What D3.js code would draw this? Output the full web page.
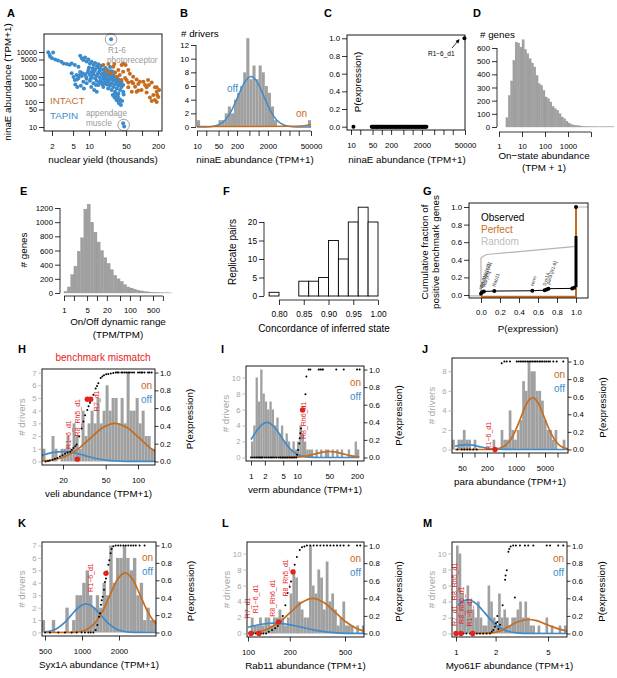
<!DOCTYPE html>
<html><head><meta charset="utf-8">
<script src="https://cdn.jsdelivr.net/npm/d3@7"></script>
<style>body{margin:0;background:#fff}svg{display:block}text{font-family:'Liberation Sans',Arial,Helvetica,sans-serif}</style>
</head><body>
<script>
// ================= DATA =================
// Panel A: nuclear yield (thousands) vs ninaE abundance (TPM+1)
const aTapin=[[1.7,9800],[1.8,7600],[2.1,9500],[1.85,6500],[2.0,5600],[2.3,5000],[2.6,4600],[3.0,4100],[3.3,3500],[3.8,3300],[4.3,3100],[4.7,3500],[5.4,3000],[6.3,2600],
[6.8,7000],[7.3,5600],[7.8,4800],[8.4,6000],[9.0,4200],[9.7,5000],[10.4,3500],[11.2,4100],[12.1,3000],[13,3600],[14,2600],[15,3200],[16,2200],[17,2800],[18.6,2000],
[4.7,1400],[5.1,1000],[5.4,760],[5.8,1200],[6.3,900],[6.8,1600],[7.3,1100],[7.8,650],[8.4,1300],[9.0,850],[9.7,1900],[10.4,1200],[10.4,700],[11.2,1000],[11.2,1600],[12.1,560],[12.1,1300],[13,900],[13,2000],[13.9,700],[13.9,1100],[15,1500],[15,480],[16,950],[16,1800],[17.3,600],[17.3,1250],[18.6,850],[18.6,400],[20,1100],[20,700],[20,1600],[21.5,500],[21.5,900],[23,1300],[23,650],[23,350],[24.8,800],[24.8,450],[24.8,1700],[26.7,1000],[26.7,560],[26.7,300],[28.7,700],[28.7,1200],[28.7,400],[30.9,850],[30.9,500],[30.9,260],[33.2,600],[33.2,1000],[33.2,350],[35.7,450],[35.7,750],[35.7,220],[38.4,550],[38.4,300],[41,400],[41,650],[44,480],
[5.5,500],[6,400],[7,450],[8,350],[9,560],[11,400],[12.5,300],[14,260],
[9.5,1500],[10.8,850],[12.5,1700],[14.5,1300],[16.5,700],[18,1400],[19,1000],[21,1300],[22,800],[24,1000],[25.5,1300],[27.5,850],[29.5,1000],[32,750],[34.5,900],[37,650],[39.5,450],[22.5,550],[19.5,560],[17.8,500],[15.5,620],[13.5,480],[8.8,1000],[7.5,1400],[6.5,1150],[5.9,800],[10,2400],[11.7,2200],[14.8,2400],[20.5,2300],[22,1900],[25,2500],[30,1500],[27,1700],
[28,190],[30,160],[32,140],[33,120],[35,170],[36,100],[37,88],[38,130],[40,76],[42,110],[34,200],[31,220],[45,200],[44,260],
[26,32000],[44,14],[46,10.5]];
const aIntact=[[18.6,3020],[23.1,3300],[28.7,2590],[35.7,1900],[41.2,3020],[49,3020],[55,1900],[44,1630],[59,1350],[68,1030],[64,650],[79,800],[51,760],[48,920],[55,390],[74,410],[85,520],[91,650],[106,650],[122,390],[135,480],[152,600],[175,390],[189,260],[210,300],[193,190],[163,190],[141,150],[175,120],[152,110],[122,240],[98,300],[85,290],[64,260],[55,600],[41,760],[33,1030],[25,1400],[21.5,1750],[31,1500],[38,1200],[203,160],[189,100],[68,560],[114,480],[130,760],[189,390],[79,260],[30,3300],[44,3500]];
const aCircled=[[26,32000],[45,12]];
const aXTicks=[2,5,10,20,50,100,200], aXLabels=["2","5","10","","50","","200"];
const aYTicks=[10,50,100,500,1000,5000,10000], aYLabels=["10","50","100","500","1000","5000","10000"];

// Panel B: histogram of ninaE (log10 bins)
const bBinStart=1.0, bBinStep=0.1;
const bCounts=[1,0,0,0,0,0,0,1,1,2,3,2,4,5,6,8,13,7,9,7,9,8,6,5,3,1,0,0,0,0,0,0,0,0,0,0,1];
const bOff=[[10,0.001],[19,0.016],[31,0.08],[50,0.325],[81,1.0],[132,2.4],[214,4.49],[347,6.53],[562,7.4],[912,6.53],[1479,4.49],[2399,2.4],[3890,1.0],[6310,0.325],[10233,0.08],[16600,0.016],[26900,0.003],[50000,0]];
const bOn=[[10,0.08],[1000,0.08],[10000,0.12],[30000,0.2],[50000,0.35]];
const logTicks=[10,20,50,100,200,500,1000,2000,5000,10000,20000,50000];
const logLabels=["10","","50","","200","","","2000","","","","50000"];
const bYTicks=[0,2,4,6,8,10,12];

// Panel C: P(expression) vs ninaE
const cOffX=[12,47,50,53,56,60,64,68,72,77,82,88,94,100,107,115,123,132,141,151,162,173,185,198,212,227,243,260,278,298,319,341,365,391,418,447,479,512,548,587,628,672,719,770,824,882,944,1010,1080,1160,1240,1330,1420,1520,1630,1740,1870,2000,2140,2290,2450,2620,2800];
const cR16=[48000,1];
const cYTicks=[0,0.2,0.4,0.6,0.8,1.0];

// Panel D: on-state abundance histogram
const dBinStart=0.3, dBinStep=0.1;
const dCounts=[71,240,350,506,645,638,607,663,590,557,519,486,456,392,329,316,278,228,215,190,157,139,127,101,76,63,45,30,20,15,12,10,8,5,4,3,2,2,1,1,1,1,1,1,1,1,1];
const dXTicks=[1,10,100,1000,10000], dXLabels=["1","10","100","1000",""];
const dYTicks=[0,100,200,300,400,500,600];

// Panel E: on/off dynamic range histogram
const eBinStart=0, eBinStep=0.1;
const eCounts=[24,85,260,380,590,780,1185,1255,1000,860,720,600,500,420,330,250,200,165,120,85,70,55,40,30,22,16,12,9,6,4,3,2,1];
const eXTicks=[1,2,5,10,20,50,100,200,500,1000], eXLabels=["1","","5","","20","","100","","500",""];
const eYTicks=[0,200,400,600,800,1000,1200];

// Panel F: concordance histogram
const fBinStart=0.78, fBinStep=0.02;
const fCounts=[1,0,0,4,4,5,15,10,20,24,20];
const fXTicks=[0.80,0.85,0.90,0.95,1.00], fYTicks=[0,5,10,15,20];

// Panel G: cumulative fraction of positive benchmark genes
const gObserved=[[0,0.015],[0.01,0.03],[0.03,0.04],[0.14,0.045],[0.54,0.048],[0.67,0.055],[0.69,0.062],[0.71,0.072],[0.96,0.075],[0.98,0.082],[1.0,0.09],[1.0,0.67]];
const gObsPts=[[0,0.015],[0.01,0.03],[0.03,0.04],[0.14,0.045],[0.54,0.048],[0.67,0.055],[0.69,0.062],[0.71,0.072],[0.96,0.075],[0.98,0.082],[1.0,1.0]];
const gPerfect=[[0,-0.02],[1.0,-0.02],[1.0,1.0]];
const gRandom=[[-0.13,-0.01],[0,-0.01],[0,0.42],[0.025,0.44],[0.06,0.46],[0.975,0.55],[1.0,0.56],[1.0,1.0],[1.13,1.0]];
const gGeneLabels=[["Myo61F [x3]",0,0.015],["R8_Rh6 [x2]",0.012,0.03],["veli [x3]",0.035,0.04],["Rab11",0.14,0.045],["verm",0.54,0.048],["Syx1A",0.67,0.055],["para [R1-6]",0.71,0.072]];
const gTicks=[0,0.2,0.4,0.6,0.8,1.0];

// Panels H-M: driver histograms, on/off fits, P(expression)
const pTicks=[0,0.2,0.4,0.6,0.8,1.0];
// H veli
const hBinStart=1.11, hBinStep=0.028;
const hCounts=[1,0,0,2,1,0,1,1,2,1,3,2,1,4,2,3,4,3,5,3,4,6,4,5,5,3,5,3,7,4,4,5,3,4,2,2,1,1];
const hOff=[[12.7,0.48],[15.8,0.69],[20,0.78],[25.1,0.69],[31.6,0.475],[39.8,0.254],[50.1,0.106],[63,0.034],[79,0.009],[100,0.002],[144,0]];
const hOn=[[12.4,0.033],[16.2,0.13],[21.1,0.41],[27.5,0.97],[35.9,1.82],[46.8,2.65],[61,3.0],[79.4,2.65],[103.5,1.82],[135,0.97],[144.5,0.8]];
const hDots=[[13.8,0],[14.5,0.005],[15.1,0.01],[16,0.02],[16.8,0.03],[17.7,0.04],[18.7,0.056],[19.8,0.07],[20.9,0.086],[22,0.1],[23.3,0.11],[24.2,0.13],[25,0.15],[26,0.17],[26.8,0.19],[28.3,0.28],[29.8,0.37],[31,0.45],[32.1,0.52],[33.7,0.58],[34.6,0.62],[35.7,0.66],[37,0.71],[38.4,0.75],[40.3,0.82],[41.5,0.85],[42.7,0.88],[44.9,0.94],[46.5,0.955],[48.2,0.97],[50.5,0.98],[52.9,0.985],[55.8,0.99],[58.9,0.995],[62,1],[64,1],[66,1],[70,1],[72,1],[75,1],[78,1],[81,1],[84,1],[88,1],[92,1],[100,1],[104,1],[108,1],[110,1],[115,1],[124,1],[128,1],[134,1]];
const hRed=[[27.2,0.026],[33.7,0.70],[36.2,0.70]];
const hLabels=[["R1−6_d1",23.5,0.33],["R8_Rh5_d1",28.8,0.52],["R7_d1",43.3,0.71]];
const hXTicks=[20,50,100], hXLabels=["20","50","100"], hYTicks=[0,1,2,3,4,5,6,7];
// I verm
const iBinStart=0, iBinStep=0.05;
const iCounts=[2,4,10,7,11,8,7,6,7,6,4,5,3,4,2,3,2,1,2,1,2,4,3,2,1,1,1,0,1,0,1,0,1,1,0,1,0,1,0,1,0,0,1,0,0,2,1];
const iOff=[[1,2.25],[1.26,3.14],[1.58,3.9],[2.22,4.4],[3.16,3.86],[4.47,2.64],[6.3,1.41],[8.9,0.58],[12.6,0.19],[17.8,0.047],[31.6,0],[224,0]];
const iOn=[[4,0],[7.9,0.02],[12.6,0.1],[17.8,0.24],[25,0.455],[35.5,0.66],[50,0.75],[70.8,0.66],[100,0.455],[141,0.24],[200,0.1],[224,0.07]];
const iDots=[[1.0,0],[1.1,0],[1.2,0],[1.3,0],[1.4,0],[1.5,0],[1.6,0],[1.7,0],[1.8,0],[2.0,0],[2.2,0],[2.4,0],[2.6,0],[2.8,0],[3.0,0],[3.3,0],[3.6,0],[4.0,0],[4.4,0],[4.8,0],[5.2,0],[5.7,0],[6.2,0],[6.8,0],[7.4,0],[8.1,0],[8.8,0],[9.6,0],[10,0.03],[10.5,0.085],[11.2,0.16],[11.4,0.22],[11.8,0.275],[12.2,0.33],[15.2,0.72],[15.9,0.92],[17.8,1],[19.4,1],[29.5,1],[32,1],[34.9,1],[36.5,1],[71,1],[103,1],[200,1],[228,1]];
const iRed=[[13.2,0.54]];
const iLabels=[["R8_Rh6_d1",15.8,0.45]];
const iXTicks=[1,2,5,10,20,50,100,200], iXLabels=["1","2","5","10","","50","","200"], iYTicks=[0,2,4,6,8,10];
// J para
const jBinStart=1.46, jBinStep=0.065;
const jCounts=[1,0,1,1,2,1,1,0,1,0,0,0,0,0,0,1,0,0,2,1,1,4,2,1,2,3,7,6,9,8,8,6,6,5,3,2,2,1,2,0,0,1];
const jOff=[[34,0.33],[45.7,0.44],[64.6,0.5],[91,0.44],[129,0.3],[182,0.16],[257,0.068],[363,0.022],[513,0.0055],[1000,0],[17800,0]];
const jOn=[[34,0],[170,0],[339,0.06],[468,0.22],[661,0.72],[912,1.67],[1288,3.2],[1800,4.68],[2512,5.3],[3508,4.68],[4898,3.2],[6839,1.72],[9550,0.72],[13335,0.23],[17800,0.07]];
const jDots=[[38.6,0],[49,0],[56.9,0],[67,0],[77.8,0],[93.7,0],[113,0],[452,0.98],[524,1],[597,1],[718,1],[1040,1],[1150,1],[1270,1],[1400,1],[1550,1],[1700,1],[1880,1],[2070,1],[2280,1],[2500,1],[2750,1],[3000,1],[3300,1],[3650,1],[4000,1],[4400,1],[4900,1],[5400,1],[6000,1],[6600,1],[7940,1],[9550,1],[13800,1]];
const jRed=[[312,0]];
const jLabels=[["R1−6_d1",250,0.18]];
const jXTicks=[50,100,200,500,1000,2000,5000,10000], jXLabels=["50","","200","","1000","","5000",""], jYTicks=[0,2,4,6,8];
// K Syx1A
const kBinStart=2.672, kBinStep=0.0275;
const kCounts=[1,0,0,1,0,0,0,2,0,1,3,3,4,5,3,2,3,2,4,3,7,4,6,6,7,6,5,6,3,4,1,2,1,1];
const kOff=[[500,0.05],[541,0.1],[621,0.31],[713,0.75],[818,1.4],[940,2.03],[1079,2.3],[1239,2.03],[1422,1.4],[1633,0.75],[1875,0.31],[2153,0.1],[2472,0.027],[2818,0.005],[3981,0]];
const kOn=[[500,0],[800,0.005],[933,0.05],[1072,0.21],[1247,0.65],[1445,1.56],[1671,2.91],[1936,4.24],[2239,4.8],[2594,4.24],[3000,2.91],[3470,1.56],[3981,0.69]];
const kDots=[[500,0],[549,0],[642,0],[727,0],[824,0],[905,0],[993,0],[1057,0],[1125,0],[1175,0],[1236,0],[1291,0.03],[1334,0.086],[1375,0.18],[1402,0.22],[1428,0.32],[1446,0.37],[1473,0.41],[1510,0.49],[1538,0.58],[1567,0.62],[1600,0.7],[1637,0.78],[1668,0.83],[1710,0.91],[1743,0.96],[1798,0.99],[1880,1],[1970,1],[2060,1],[2170,1],[2270,1],[2380,1],[2500,1],[2620,1],[2740,1],[2940,1],[3230,1]];
const kRed=[[1567,0.68]];
const kLabels=[["R1−6_d1",1236,0.66]];
const kXTicks=[500,1000,2000], kXLabels=["500","1000","2000"], kYTicks=[0,1,2,3,4,5,6,7];
// L Rab11
const lBinStart=2.0, lBinStep=0.02;
const lCounts=[0,2,1,1,2,1,2,2,1,2,2,3,2,1,2,5,8,7,4,3,2,2,11,6,5,8,7,3,9,4,5,3,1,2,4,1,1,1,0,1,0,1];
const lOff=[[100,0.78],[125,1.15],[156,1.3],[194,1.15],[242,0.79],[301,0.42],[374,0.176],[466,0.057],[579,0.014],[685,0.003]];
const lOn=[[100,0.06],[117,0.19],[140,0.6],[169,1.43],[203,2.67],[244,3.88],[293,4.4],[352,3.88],[424,2.67],[509,1.43],[612,0.6],[685,0.3]];
const lDots=[[105,0],[109,0],[114,0],[119,0],[124,0],[129,0],[135,0],[141,0.02],[149,0.04],[157,0.06],[164,0.085],[171,0.13],[178,0.2],[186,0.32],[193,0.46],[200,0.53],[204,0.59],[211,0.70],[217,0.78],[225,0.87],[236,0.95],[245,0.98],[255,0.99],[266,1],[281,1],[297,1],[314,1],[332,1],[351,1],[371,1],[392,1],[414,1],[438,1],[463,1],[489,1],[531,1],[610,1],[644,1]];
const lRed=[[105,0],[120,0],[166,0.13],[211,0.70]];
const lLabels=[["R7_d1",103,0.32],["R1−6_d1",119,0.42],["R8_Rh6_d1",156,0.43],["R8_Rh5_d1",193,0.66]];
const lXTicks=[100,200,500], lXLabels=["100","200","500"], lYTicks=[0,2,4,6,8,10];
// M Myo61F
const mBinStart=0, mBinStep=0.02;
const mCounts=[11,10,5,4,6,4,3,2,4,2,1,1,6,4,2,1,5,2,3,2,1,2,2,3,4,2,4,2,1,1,0,1,0,0,2,0,1,0,0,1,0,1];
const mOff=[[1.04,3.5],[1.059,3.71],[1.23,4.2],[1.429,3.71],[1.66,2.55],[1.928,1.36],[2.239,0.57],[2.6,0.18],[3.02,0.047],[3.51,0.009],[6.97,0]];
const mOn=[[1.44,0],[1.8,0.05],[2.0,0.15],[2.25,0.45],[2.6,1.0],[3.0,1.5],[3.5,1.75],[4.1,1.6],[4.75,1.2],[5.5,0.8],[6.4,0.45],[6.97,0.3]];
const mDots=[[1.01,0],[1.07,0],[1.14,0],[1.2,0],[1.28,0],[1.35,0],[1.44,0],[1.52,0],[1.61,0],[1.71,0],[1.81,0],[1.87,0.02],[1.92,0.04],[1.98,0.077],[2.01,0.115],[2.06,0.13],[2.06,0.2],[2.1,0.05],[2.16,0.1],[2.26,0.32],[2.36,0.61],[2.38,0.66],[2.43,0.72],[2.5,0.93],[2.54,0.96],[2.6,0.99],[2.8,0.41],[2.72,1],[2.85,1],[3.06,1],[3.34,1],[3.54,1],[3.87,1],[4.89,1],[5.18,1],[5.98,1],[6.53,1]];
const mRed=[[1.0,0],[1.09,0],[1.34,0]];
const mLabels=[["R7_d1",1.01,0.23],["R8_Rh5_d1",1.01,0.62],["R8_Rh6_d1",1.156,0.35],["R1−6_d1",1.32,0.27]];
const mXTicks=[1,2,5], mXLabels=["1","2","5"], mYTicks=[0,2,4,6,8,10];

// ================= DRAWING =================
const BLUE="#3d8bcb", ORANGE="#c76c1e", RED="#e3221b", HGRAY="#a0a0a0", AXGRAY="#a6a6a6";
const svg=d3.select("body").append("svg").attr("width",617).attr("height",678);
let clipId=0;

function text(x,y,s,o={}){
  const t=svg.append("text").attr("x",x).attr("y",y).text(s)
    .attr("font-size",o.size||9.8).attr("fill",o.fill||"#000").attr("text-anchor",o.anchor||"start");
  if(o.bold) t.attr("font-weight","bold");
  if(o.rotate!=null) t.attr("transform",`rotate(${o.rotate},${x},${y})`);
  return t;
}
function letter(x,y,s){ text(x,y,s,{size:11,bold:true}); }
function axis(kind,scale,vals,labels,pos,o={}){
  const gen=kind==="bottom"?d3.axisBottom(scale):kind==="left"?d3.axisLeft(scale):d3.axisRight(scale);
  gen.tickValues(vals).tickFormat((d,i)=>labels?labels[i]:d).tickSizeOuter(0).tickSizeInner(o.tick||4.5).tickPadding(o.pad||2);
  const col=o.color||"#000";
  const g=svg.append("g").attr("transform",kind==="bottom"?`translate(0,${pos})`:`translate(${pos},0)`).call(gen)
    .attr("font-family",null).attr("font-size",o.size||7.8);
  g.select(".domain").remove();
  g.selectAll(".tick line").attr("stroke",col).attr("stroke-width",0.8);
  g.selectAll(".tick text").attr("fill",col);
  if(o.line){
    const r=d3.extent(vals.map(v=>scale(v)));
    if(kind==="bottom") g.append("line").attr("x1",r[0]).attr("x2",r[1]).attr("stroke",col).attr("stroke-width",0.8);
    else g.append("line").attr("y1",r[0]).attr("y2",r[1]).attr("stroke",col).attr("stroke-width",0.8);
  }
  return g;
}
function box(x0,y0,x1,y1){ svg.append("rect").attr("x",x0).attr("y",y0).attr("width",x1-x0).attr("height",y1-y0).attr("fill","none").attr("stroke","#000").attr("stroke-width",0.9); }
function clipGroup(x0,y0,x1,y1){
  const id="clip"+(clipId++);
  svg.append("clipPath").attr("id",id).append("rect").attr("x",x0).attr("y",y0).attr("width",x1-x0).attr("height",y1-y0);
  return svg.append("g").attr("clip-path",`url(#${id})`);
}
function logHist(g,x,y,start,step,counts,fill,stroke){
  g.append("g").selectAll("rect").data(counts).join("rect")
    .attr("x",(d,i)=>x(Math.pow(10,start+i*step)))
    .attr("width",(d,i)=>Math.max(0,x(Math.pow(10,start+(i+1)*step))-x(Math.pow(10,start+i*step))))
    .attr("y",d=>y(d)).attr("height",d=>y(0)-y(d)).attr("fill",fill)
    .attr("stroke",stroke||"none").attr("stroke-width",stroke?0.25:0);
}
function curve(g,data,x,y,col,w){
  g.append("path").datum(data).attr("fill","none").attr("stroke",col).attr("stroke-width",w||1.5)
   .attr("d",d3.line().x(d=>x(d[0])).y(d=>y(d[1])).curve(d3.curveMonotoneX));
}
function dots(g,data,x,y,r,col){
  g.append("g").selectAll("circle").data(data).join("circle")
    .attr("cx",d=>x(d[0])).attr("cy",d=>y(d[1])).attr("r",r).attr("fill",col);
}

// ---------- A ----------
{
  const x=d3.scaleLog().domain([2,200]).range([52,158]);
  const y=d3.scaleLog().domain([10,10000]).range([127,52]);
  letter(7,17,"A");
  const g=svg.append("g");
  dots(g,aTapin,x,y,2,BLUE);
  dots(g,aIntact,x,y,2,ORANGE);
  g.selectAll("circle.ring").data(aCircled).join("circle").attr("class","ring")
    .attr("cx",d=>x(d[0])).attr("cy",d=>y(d[1])).attr("r",5.8).attr("fill","none").attr("stroke","#8a8a8a").attr("stroke-width",0.8);
  box(44,34,162,131);
  axis("left",y,aYTicks,aYLabels,44,{tick:5,pad:2,size:7.3});
  axis("bottom",x,aXTicks,aXLabels,131,{tick:5,pad:7,size:7.8});
  text(103,163,"nuclear yield (thousands)",{anchor:"middle"});
  text(11,82,"ninaE abundance (TPM+1)",{anchor:"middle",rotate:-90});
  text(108,53,"R1-6",{size:8.2,fill:"#9a9a9a"});
  text(107,63,"photoreceptor",{size:8.2,fill:"#9a9a9a"});
  text(86,116,"appendage",{size:8.2,fill:"#9a9a9a"});
  text(86,126,"muscle",{size:8.2,fill:"#9a9a9a"});
  text(50,104,"INTACT",{size:9.8,fill:ORANGE});
  text(50,119,"TAPIN",{size:9.8,fill:BLUE});
}
// ---------- B ----------
{
  const x=d3.scaleLog().domain([10,50000]).range([197,311]);
  const y=d3.scaleLinear().domain([0,12]).range([127,45]);
  letter(180,17,"B");
  const g=svg.append("g");
  logHist(g,x,y,bBinStart,bBinStep,bCounts,HGRAY);
  curve(g,bOff,x,y,BLUE);
  curve(g,bOn,x,y,ORANGE);
  axis("left",y,bYTicks,null,196,{tick:5,pad:2,line:true});
  axis("bottom",x,logTicks,logLabels,131,{tick:5,pad:7,line:true});
  text(181,37,"# drivers");
  text(255,163,"ninaE abundance (TPM+1)",{anchor:"middle"});
  text(227,92,"off",{size:10,fill:BLUE});
  text(296,117,"on",{size:10,fill:ORANGE});
}
// ---------- C ----------
{
  const x=d3.scaleLog().domain([10,50000]).range([351,465]);
  const y=d3.scaleLinear().domain([0,1]).range([126.7,38.3]);
  letter(324,17,"C");
  const g=svg.append("g");
  dots(g,cOffX.map(v=>[v,0]),x,y,2,"#000");
  dots(g,[cR16],x,y,2,"#000");
  box(347,35,465,130);
  axis("left",y,cYTicks,cYTicks.map(d=>d.toFixed(1)),347,{tick:5,pad:2});
  axis("bottom",x,logTicks,logLabels,130,{tick:5,pad:7});
  text(361,82,"P(expression)",{anchor:"middle",rotate:-90});
  text(407,163,"ninaE abundance (TPM+1)",{anchor:"middle"});
  text(428,56,"R1−6_d1",{size:6.5});
  svg.append("line").attr("x1",452).attr("y1",48).attr("x2",458).attr("y2",41).attr("stroke","#000").attr("stroke-width",0.8);
  svg.append("path").attr("d","M459.5,39 L455.5,41 L458.5,43.5 Z").attr("fill","#000");
}
// ---------- D ----------
{
  const x=d3.scaleLog().domain([1,10000]).range([499,591]);
  const y=d3.scaleLinear().domain([0,600]).range([127,48]);
  letter(473,17,"D");
  const g=svg.append("g");
  logHist(g,x,y,dBinStart,dBinStep,dCounts,HGRAY,"#939393");
  axis("left",y,dYTicks,null,497,{tick:5,pad:2,line:true});
  axis("bottom",x,dXTicks,dXLabels,132,{tick:5,pad:6,line:true});
  text(480,38,"# genes");
  text(544,159,"On−state abundance",{anchor:"middle"});
  text(544,171,"(TPM + 1)",{anchor:"middle"});
}
// ---------- E ----------
{
  const x=d3.scaleLog().domain([1,500]).range([64,153]);
  const y=d3.scaleLinear().domain([0,1200]).range([293,208]);
  letter(20,195,"E");
  const g=svg.append("g");
  logHist(g,x,y,eBinStart,eBinStep,eCounts,HGRAY,"#939393");
  axis("left",y,eYTicks,null,60,{tick:5,pad:2,line:true});
  axis("bottom",x,eXTicks,eXLabels,296,{tick:5,pad:6,line:true});
  text(27,250,"# genes",{anchor:"middle",rotate:-90});
  text(118,325,"On/Off dynamic range",{anchor:"middle"});
  text(118,338,"(TPM/TPM)",{anchor:"middle"});
}
// ---------- F ----------
{
  const x=d3.scaleLinear().domain([0.8,1.0]).range([279,378]);
  const y=d3.scaleLinear().domain([0,20]).range([296,222]);
  letter(223,195,"F");
  svg.append("g").selectAll("rect").data(fCounts).join("rect")
    .attr("x",(d,i)=>x(fBinStart+i*fBinStep)).attr("width",(d,i)=>x(fBinStart+(i+1)*fBinStep)-x(fBinStart+i*fBinStep))
    .attr("y",d=>y(d)).attr("height",d=>y(0)-y(d)).attr("fill","#fff").attr("stroke","#000").attr("stroke-width",0.9);
  axis("left",y,fYTicks,null,264,{tick:5,pad:2,line:true,size:8.3});
  axis("bottom",x,fXTicks,fXTicks.map(d=>d.toFixed(2)),300,{tick:5,pad:6,line:true,size:8.3});
  text(236,252,"Replicate pairs",{anchor:"middle",rotate:-90,size:10});
  text(324,332,"Concordance of inferred state",{anchor:"middle",size:10});
}
// ---------- G ----------
{
  const x=d3.scaleLinear().domain([0,1]).range([481,576]);
  const y=d3.scaleLinear().domain([0,1]).range([295,207]);
  letter(423,195,"G");
  const g=clipGroup(469,203,588,298);
  const ln=d3.line().x(d=>x(d[0])).y(d=>y(d[1]));
  g.append("path").datum(gRandom).attr("d",ln).attr("fill","none").attr("stroke","#b4b4b4").attr("stroke-width",1.2);
  g.append("path").datum(gPerfect).attr("d",ln).attr("fill","none").attr("stroke",ORANGE).attr("stroke-width",2);
  g.append("path").datum(gObserved).attr("d",ln).attr("fill","none").attr("stroke","#000").attr("stroke-width",1);
  g.append("line").attr("x1",x(1)).attr("x2",x(1)).attr("y1",y(0.09)).attr("y2",y(0.67)).attr("stroke","#000").attr("stroke-width",3);
  dots(g,gObsPts,x,y,2,"#000");
  gGeneLabels.forEach(d=>{ const px=x(d[1])+1, py=y(d[2])-4; text(px,py,d[0],{size:4.8,fill:"#333",rotate:-72}); });
  box(469,203,588,298);
  axis("left",y,gTicks,gTicks.map(d=>d.toFixed(1)),469,{tick:5,pad:2});
  axis("bottom",x,gTicks,gTicks.map(d=>d.toFixed(1)),298,{tick:5,pad:6});
  text(428,252,"Cumulative fraction of",{anchor:"middle",rotate:-90});
  text(439,252,"positive benchmark genes",{anchor:"middle",rotate:-90});
  text(528,332,"P(expression)",{anchor:"middle"});
  text(481,221,"Observed",{size:10});
  text(481,233,"Perfect",{size:10,fill:ORANGE});
  text(481,245,"Random",{size:10,fill:"#bdbdbd"});
}
// ---------- H-M ----------
function driverPanel(c){
  const [x0,y0,x1,y1]=c.box;
  const x=d3.scaleLog().domain(c.xd).range(c.xr);
  const yb=y1-(y1-y0)*0.04/1.08, yt=y0+(y1-y0)*0.04/1.08;
  const yL=d3.scaleLinear().domain([0,c.maxCount]).range([yb,yt]);
  const yR=d3.scaleLinear().domain([0,1]).range([yb,yt]);
  letter(c.letterPos[0],c.letterPos[1],c.letter);
  const g=clipGroup(x0,y0,x1,y1);
  logHist(g,x,yL,c.binStart,c.binStep,c.counts,HGRAY);
  curve(g,c.off,x,yL,BLUE,1.7);
  curve(g,c.on,x,yL,ORANGE,1.7);
  dots(svg,c.dots,x,yR,1,"#000");
  dots(svg,c.red,x,yR,2.7,RED);
  c.labels.forEach(d=>text(x(d[1]),yR(d[2])+2.5,d[0],{size:7,fill:RED,anchor:"middle",rotate:-90}));
  box(x0,y0,x1,y1);
  axis("left",yL,c.yTicks,null,x0,{tick:3.5,pad:2,color:AXGRAY});
  axis("right",yR,pTicks,pTicks.map(d=>d.toFixed(1)),x1,{tick:3.5,pad:1.5});
  axis("bottom",x,c.xTicks,c.xLabels,y1,{tick:4.5,pad:8});
  const my=(y0+y1)/2;
  text(x0-17,my,"# drivers",{anchor:"middle",rotate:-90,fill:AXGRAY});
  text(x1+38,my+2,"P(expression)",{anchor:"middle",rotate:-90});
  text((x0+x1)/2,y1+32,c.title,{anchor:"middle"});
  text(x1-3,yt+16,"on",{size:10,fill:ORANGE,anchor:"end"});
  text(x1-3,yt+30,"off",{size:10,fill:BLUE,anchor:"end"});
}
text(103,361,"benchmark mismatch",{anchor:"middle",size:10,fill:RED});
driverPanel({box:[42,369,155,465],xd:[20,100],xr:[63,138],maxCount:7,letter:"H",letterPos:[18,353],
  binStart:hBinStart,binStep:hBinStep,counts:hCounts,off:hOff,on:hOn,dots:hDots,red:hRed,labels:hLabels,
  yTicks:hYTicks,xTicks:hXTicks,xLabels:hXLabels,title:"veli abundance (TPM+1)"});
driverPanel({box:[246,366,364,461],xd:[1,200],xr:[251,357],maxCount:11,letter:"I",letterPos:[221,353],
  binStart:iBinStart,binStep:iBinStep,counts:iCounts,off:iOff,on:iOn,dots:iDots,red:iRed,labels:iLabels,
  yTicks:iYTicks,xTicks:iXTicks,xLabels:iXLabels,title:"verm abundance (TPM+1)"});
driverPanel({box:[452,358,568,453],xd:[50,5000],xr:[462,545],maxCount:9,letter:"J",letterPos:[422,353],
  binStart:jBinStart,binStep:jBinStep,counts:jCounts,off:jOff,on:jOn,dots:jDots,red:jRed,labels:jLabels,
  yTicks:jYTicks,xTicks:jXTicks,xLabels:jXLabels,title:"para abundance (TPM+1)"});
driverPanel({box:[42,542,156,636],xd:[500,2000],xr:[45,119],maxCount:7,letter:"K",letterPos:[18,527],
  binStart:kBinStart,binStep:kBinStep,counts:kCounts,off:kOff,on:kOn,dots:kDots,red:kRed,labels:kLabels,
  yTicks:kYTicks,xTicks:kXTicks,xLabels:kXLabels,title:"Syx1A abundance (TPM+1)"});
driverPanel({box:[247,542,364,637],xd:[100,500],xr:[248,345],maxCount:11,letter:"L",letterPos:[222,527],
  binStart:lBinStart,binStep:lBinStep,counts:lCounts,off:lOff,on:lOn,dots:lDots,red:lRed,labels:lLabels,
  yTicks:lYTicks,xTicks:lXTicks,xLabels:lXLabels,title:"Rab11 abundance (TPM+1)"});
driverPanel({box:[452,542,567,637],xd:[1,5],xr:[456,548],maxCount:11,letter:"M",letterPos:[423,527],
  binStart:mBinStart,binStep:mBinStep,counts:mCounts,off:mOff,on:mOn,dots:mDots,red:mRed,labels:mLabels,
  yTicks:mYTicks,xTicks:mXTicks,xLabels:mXLabels,title:"Myo61F abundance (TPM+1)"});
</script></body></html>
